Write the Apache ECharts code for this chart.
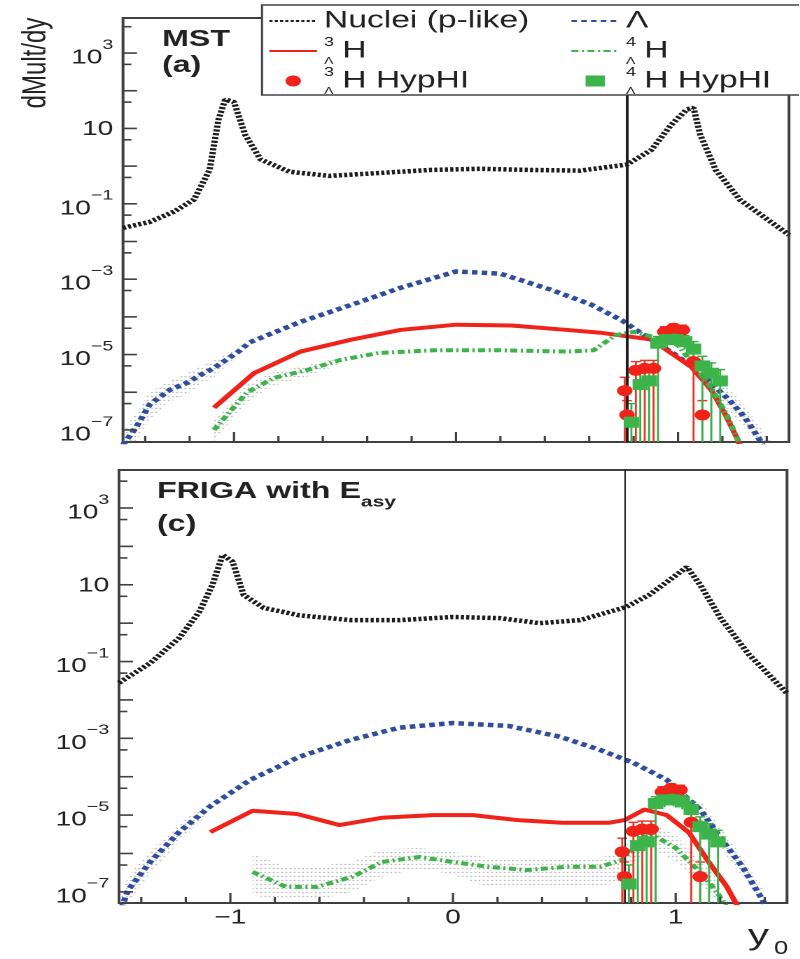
<!DOCTYPE html>
<html>
<head>
<meta charset="utf-8">
<script src="https://cdn.jsdelivr.net/npm/echarts@6/dist/echarts.min.js"></script>
<style>
  html, body { margin: 0; padding: 0; background: #fff; overflow: hidden; }
  /* the original figure is stretched horizontally, so the chart is too */
  #chart { height: 959px; transform-origin: 0 0; }
</style>
</head>
<body>
<div id="chart"></div>
<script>
// horizontal stretch of the source figure
const SX = 1.4;

// x axis (rapidity y0) ticks
const xMajor = [-1, 0, 1];
const xMinor = [-1.4, -1.2, -0.8, -0.6, -0.4, -0.2, 0.2, 0.4, 0.6, 0.8, 1.2, 1.4];
// y axis: decades (log10), labelled decades, and the 5x10^n minor ticks
const yDecades = [-7, -6, -5, -4, -3, -2, -1, 0, 1, 2, 3];
const yLabelled = [-7, -5, -3, -1, 1, 3];
const yHalf = [-6.301, -5.301, -4.301, -3.301, -2.301, -1.301, -0.301, 0.699, 1.699, 2.699, 3.699];
const Y0_CUT = 0.77;

// ---- panel (a) MST ----
const aNucX = [-1.5, -1.38, -1.27, -1.18, -1.11, -1.07, -1.04, -1.0, -0.95, -0.88, -0.75, -0.57, -0.34, -0.12, 0.11, 0.34, 0.56, 0.77, 0.88, 0.97, 1.04, 1.07, 1.1, 1.17, 1.28, 1.5];
const aNucY = [0.023, 0.033, 0.062, 0.13, 0.79, 17, 58, 50, 6.8, 1.5, 0.71, 0.55, 0.66, 0.79, 0.85, 0.79, 0.76, 1.1, 2.7, 12.6, 32, 35, 6.8, 0.79, 0.126, 0.015];

const aLamX = [-1.5, -1.44, -1.38, -1.29, -1.21, -1.15, -1.09, -0.98, -0.93, -0.7, -0.47, -0.25, 0.0, 0.2, 0.43, 0.61, 0.75, 0.83, 1.0, 1.12, 1.23, 1.3, 1.36, 1.42];
const aLamY = [4e-8, 1.2e-7, 4.7e-7, 1.15e-6, 1.8e-6, 2.9e-6, 4.4e-6, 1.2e-5, 2.1e-5, 7.4e-5, 2.1e-4, 5.9e-4, 1.6e-3, 1.4e-3, 5.2e-4, 2.1e-4, 7.9e-5, 3.8e-5, 8.9e-6, 2.5e-6, 6.3e-7, 2.2e-7, 6.5e-8, 1.6e-8];

const aH3X = [-1.09, -0.91, -0.7, -0.47, -0.25, 0.0, 0.25, 0.5, 0.65, 0.88, 1.06, 1.15, 1.21, 1.27, 1.32];
const aH3Y = [3.9e-7, 3.2e-6, 1.2e-5, 2.5e-5, 4.5e-5, 6.2e-5, 5.9e-5, 4.5e-5, 3.8e-5, 2.5e-5, 4.7e-6, 1.15e-6, 2.8e-7, 5.4e-8, 1e-8];

const aH4X = [-1.09, -1.02, -0.94, -0.82, -0.67, -0.52, -0.35, -0.1, 0.2, 0.5, 0.62, 0.72, 0.8, 0.9, 1.0, 1.06, 1.15, 1.22, 1.28];
const aH4Y = [1e-7, 3e-7, 1e-6, 2.4e-6, 3.9e-6, 7.2e-6, 1.1e-5, 1.3e-5, 1.3e-5, 1.2e-5, 1.3e-5, 3.3e-5, 4e-5, 2.8e-5, 1.8e-5, 6.3e-6, 1.3e-6, 2.5e-7, 4e-8];

// uncertainty bands, panel (a)
const aLamBandX = [-1.5, -1.44, -1.38, -1.29, -1.21, -1.15, -1.09, -1.0];
const aLamBandLo = [1.6e-8, 5e-8, 1.8e-7, 5.6e-7, 9e-7, 1.6e-6, 2.5e-6, 7.6e-6];
const aLamBandHi = [1e-7, 2.8e-7, 1e-6, 2e-6, 3.2e-6, 5e-6, 7e-6, 1.4e-5];
const aLamBand2X = [1.12, 1.23, 1.3, 1.36, 1.42];
const aLamBand2Lo = [1.4e-6, 3.2e-7, 1.1e-7, 3.2e-8, 6.3e-9];
const aLamBand2Hi = [4.5e-6, 1.26e-6, 4.5e-7, 1.4e-7, 4e-8];
const aH4BandX = [-1.09, -1.02, -0.94, -0.82, -0.67, -0.52];
const aH4BandLo = [5e-8, 1.6e-7, 5.6e-7, 1.5e-6, 2.6e-6, 5.6e-6];
const aH4BandHi = [1.8e-7, 5e-7, 1.6e-6, 3.5e-6, 5.2e-6, 8.9e-6];

// ---- panel (c) FRIGA with E_asy ----
const cNucX = [-1.5, -1.36, -1.23, -1.14, -1.08, -1.035, -0.99, -0.94, -0.85, -0.69, -0.46, -0.24, 0.0, 0.21, 0.39, 0.57, 0.775, 0.88, 0.97, 1.05, 1.11, 1.2, 1.33, 1.5];
const cNucY = [0.028, 0.091, 0.41, 1.95, 10, 60, 40, 5.4, 2.5, 1.6, 1.2, 1.2, 1.45, 1.35, 1.0, 1.2, 2.6, 5.4, 13, 29, 10, 1.4, 0.15, 0.015];

const cLamX = [-1.5, -1.46, -1.36, -1.23, -1.09, -0.91, -0.69, -0.46, -0.24, 0.0, 0.25, 0.48, 0.66, 0.81, 0.96, 1.11, 1.21, 1.3, 1.39, 1.45];
const cLamY = [2.5e-8, 1.1e-7, 6e-7, 3.6e-6, 1.7e-5, 8.3e-5, 3.3e-4, 9.1e-4, 1.9e-3, 2.5e-3, 2.1e-3, 1.1e-3, 5e-4, 2.3e-4, 8.3e-5, 1.4e-5, 2.2e-6, 4.5e-7, 6.2e-8, 1.3e-8];

const cH3X = [-1.09, -0.9, -0.7, -0.51, -0.32, -0.09, 0.09, 0.29, 0.49, 0.7, 0.77, 0.86, 0.96, 1.06, 1.15, 1.23, 1.3];
const cH3Y = [3.6e-6, 1.3e-5, 1.07e-5, 5.5e-6, 8.5e-6, 1e-5, 1e-5, 7.4e-6, 6.3e-6, 6.3e-6, 7.4e-6, 1.4e-5, 1e-5, 3.5e-6, 5.8e-7, 1.35e-7, 2.5e-8];

const cH4X = [-0.9, -0.75, -0.61, -0.45, -0.32, -0.15, 0.0, 0.16, 0.33, 0.51, 0.66, 0.76, 0.88, 1.0, 1.1, 1.18, 1.24];
const cH4Y = [3.3e-7, 1.35e-7, 1.35e-7, 2.5e-7, 6e-7, 8.1e-7, 6e-7, 4.5e-7, 3.7e-7, 4.5e-7, 4.5e-7, 6.8e-7, 3.5e-6, 1.4e-6, 3.7e-7, 1.1e-7, 3.2e-8];

// uncertainty bands, panel (c)
const cH4BandX = [-0.9, -0.75, -0.61, -0.45, -0.32, -0.15, 0.0, 0.16, 0.33, 0.51, 0.66, 0.76];
const cH4BandLo = [8e-8, 6.3e-8, 6.3e-8, 1e-7, 2.5e-7, 4e-7, 2.8e-7, 1.26e-7, 1.26e-7, 1.26e-7, 1.26e-7, 2e-7];
const cH4BandHi = [1e-6, 4.5e-7, 4.5e-7, 6.3e-7, 1.26e-6, 1.4e-6, 1.1e-6, 7.9e-7, 7.9e-7, 7.9e-7, 7.9e-7, 1e-6];
const cH4Band2X = [0.76, 0.88, 1.0, 1.1, 1.2];
const cH4Band2Lo = [2.5e-7, 1.5e-6, 6e-7, 1.6e-7, 3e-8];
const cH4Band2Hi = [1.5e-6, 7e-6, 3e-6, 8e-7, 2e-7];
const cLamBandX = [-1.5, -1.46, -1.36, -1.23, -1.12];
const cLamBandLo = [1e-8, 5e-8, 3e-7, 2e-6, 8e-6];
const cLamBandHi = [5e-8, 2.5e-7, 1.2e-6, 6e-6, 1.8e-5];
const cLamBand2X = [1.11, 1.21, 1.3, 1.39];
const cLamBand2Lo = [7e-6, 1.2e-6, 2.5e-7, 3e-8];
const cLamBand2Hi = [2.5e-5, 4e-6, 8e-7, 1.2e-7];

// ---- HypHI data (same in both panels) ----
const hyp3X = [0.76, 0.77, 0.81, 0.85, 0.89, 0.94, 0.98, 1.02, 1.07, 1.11];
const hyp3Y = [1.1e-6, 2.5e-7, 3.8e-6, 4.3e-6, 4.3e-6, 4e-5, 5e-5, 4.5e-5, 6.5e-6, 2.5e-7];
const hyp3Lo = [1e-9, 1e-9, 1e-9, 1e-9, 1e-9, 2.8e-5, 3.6e-5, 3.2e-5, 1e-9, 1e-9];
const hyp3Hi = [2.5e-6, 6e-7, 6.5e-6, 7e-6, 7e-6, 5.5e-5, 6.5e-5, 6e-5, 1.1e-5, 6e-7];

const hyp4X = [0.79, 0.83, 0.87, 0.91, 0.95, 0.99, 1.03, 1.07, 1.11, 1.15, 1.19];
const hyp4Y = [1.6e-7, 1.6e-6, 2e-6, 2e-5, 2.5e-5, 2.5e-5, 2.2e-5, 1.4e-5, 5e-6, 3.2e-6, 2e-6];
const hyp4Lo = [1e-9, 1e-9, 1e-9, 1e-9, 1.6e-5, 1.7e-5, 1.4e-5, 8e-6, 1e-9, 1e-9, 1e-9];
const hyp4Hi = [5e-7, 3.2e-6, 4e-6, 3e-5, 3.5e-5, 3.5e-5, 3.2e-5, 2.2e-5, 9e-6, 6e-6, 4e-6];

const COL = {
    nuc: '#1c1c1c',
    lam: '#2f4d9c',
    h3: '#f0231b',
    h4: '#3cb44a',
    axis: '#404040',
    text: '#222'
};
const FONT = '"Liberation Sans", Arial, sans-serif';

// panel boxes (reference pixels; x is divided by the stretch)
const PANELS = [
    { left: 123, top: 18, width: 666, height: 424, yMin: -7.32, yMax: 3.93 },
    { left: 119, top: 470, width: 668, height: 433, yMin: -7.29, yMax: 3.99 }
];
const X_MIN = -1.5, X_MAX = 1.5;

const lg = v => Math.log10(v);
const pts = (xs, ys) => xs.map((x, i) => [x, lg(ys[i])]);

// dotted grey fill like the ROOT hatch
const dot = document.createElement('canvas');
dot.width = 3;
dot.height = 4;
const dctx = dot.getContext('2d');
dctx.fillStyle = '#8f8f8f';
dctx.fillRect(0, 0, 1, 1);

const el = document.getElementById('chart');
el.style.width = (800 / SX) + 'px';
el.style.transform = 'scaleX(' + SX + ')';
const chart = echarts.init(el, null, { renderer: 'canvas', devicePixelRatio: 2 });

function lineSeries(name, g, xs, ys, lineStyle, extra) {
    return Object.assign({
        type: 'line',
        name: name,
        xAxisIndex: g,
        yAxisIndex: g,
        data: pts(xs, ys),
        symbol: 'none',
        showSymbol: false,
        lineStyle: lineStyle,
        itemStyle: { color: lineStyle.color },
        z: 3
    }, extra || {});
}

function bandSeries(g, xs, lo, hi) {
    return {
        type: 'custom',
        xAxisIndex: g,
        yAxisIndex: g,
        data: xs.map((x, i) => [x, lg(lo[i]), lg(hi[i])]),
        encode: { x: 0, y: [1, 2] },
        silent: true,
        z: 1,
        renderItem: (params, api) => {
            if (params.dataIndex !== 0) return null;
            const cs = params.coordSys;
            const clampY = y => Math.max(cs.y, Math.min(cs.y + cs.height, y));
            const up = xs.map((x, i) => api.coord([x, lg(hi[i])]));
            const down = xs.map((x, i) => api.coord([x, lg(lo[i])])).reverse();
            const points = up.concat(down).map(p => [p[0], clampY(p[1])]);
            return {
                type: 'polygon',
                shape: { points: points },
                style: { fill: { image: dot, repeat: 'repeat' }, stroke: null }
            };
        }
    };
}

function errSeries(g, xs, ys, lo, hi, color) {
    return {
        type: 'custom',
        xAxisIndex: g,
        yAxisIndex: g,
        data: xs.map((x, i) => [x, lg(ys[i]), lg(lo[i]), lg(hi[i])]),
        encode: { x: 0, y: 1 },
        silent: true,
        z: 4,
        renderItem: (params, api) => {
            const cs = params.coordSys;
            const bottom = cs.y + cs.height;
            const top = api.coord([api.value(0), api.value(3)]);
            const low = api.coord([api.value(0), api.value(2)]);
            const yLow = Math.min(bottom, low[1]);
            const cap = 3.5;
            const st = { stroke: color, lineWidth: 1.4 };
            return {
                type: 'group',
                children: [
                    { type: 'line', shape: { x1: top[0], y1: top[1], x2: low[0], y2: yLow }, style: st },
                    { type: 'line', shape: { x1: top[0] - cap, y1: top[1], x2: top[0] + cap, y2: top[1] }, style: st }
                ]
            };
        }
    };
}

function scatterSeries(name, g, xs, ys, symbol, size, color) {
    return {
        type: 'scatter',
        name: name,
        xAxisIndex: g,
        yAxisIndex: g,
        data: pts(xs, ys),
        symbol: symbol,
        symbolSize: size,
        itemStyle: { color: color, opacity: 1 },
        z: 5
    };
}

function xAxis(g, showLabels) {
    return {
        type: 'value', gridIndex: g, min: X_MIN, max: X_MAX, position: 'bottom',
        axisLine: { show: false, onZero: false }, splitLine: { show: false },
        axisTick: { show: false },
        axisLabel: {
            show: showLabels, customValues: xMajor, margin: 5,
            fontSize: 20, color: COL.text, fontFamily: FONT,
            formatter: v => (v < 0 ? '\u2212' + (-v) : String(v))
        }
    };
}

function yAxis(g) {
    return {
        type: 'value', gridIndex: g, min: PANELS[g].yMin, max: PANELS[g].yMax, position: 'left',
        axisLine: { show: false, onZero: false }, splitLine: { show: false },
        axisTick: { show: false },
        axisLabel: {
            customValues: yLabelled, margin: 7,
            formatter: v => {
                const n = Math.round(v);
                if (n === 1) return '{b|10}';
                return '{b|10}{s|' + (n < 0 ? '\u2212' + (-n) : n) + '}';
            },
            rich: {
                b: { fontSize: 20, lineHeight: 22, verticalAlign: 'bottom', color: COL.text, fontFamily: FONT },
                s: { fontSize: 14, lineHeight: 30, verticalAlign: 'top', color: COL.text, fontFamily: FONT }
            }
        }
    };
}

function panelSeries(g, d, cutWidth) {
    return [
        ...d.bands.map(b => bandSeries(g, b[0], b[1], b[2])),
        lineSeries('Nuclei (p-like)', g, d.nucX, d.nucY, { color: COL.nuc, width: 4.5, type: [2.2, 1.6] }, {
            markLine: {
                silent: true, symbol: 'none', label: { show: false },
                lineStyle: { color: '#1e1e1e', width: cutWidth, type: 'solid' },
                data: [{ xAxis: Y0_CUT }]
            }
        }),
        lineSeries('\u039B', g, d.lamX, d.lamY, { color: COL.lam, width: 4.5, type: [4, 3] }),
        lineSeries('3\u039BH', g, d.h3X, d.h3Y, { color: COL.h3, width: 4, type: 'solid' }),
        lineSeries('4\u039BH', g, d.h4X, d.h4Y, { color: COL.h4, width: 4, type: [5, 2.5, 1.5, 2.5] }),
        errSeries(g, hyp3X, hyp3Y, hyp3Lo, hyp3Hi, '#ee3322'),
        scatterSeries('3\u039BH HypHI', g, hyp3X, hyp3Y, 'circle', 11, COL.h3),
        errSeries(g, hyp4X, hyp4Y, hyp4Lo, hyp4Hi, '#35ae46'),
        scatterSeries('4\u039BH HypHI', g, hyp4X, hyp4Y, 'rect', 11, COL.h4)
    ];
}

const legendRich = {
    u: { fontSize: 13, lineHeight: 17, verticalAlign: 'top', width: 0.01, color: COL.text, fontFamily: FONT },
    d: { fontSize: 10, lineHeight: 12, verticalAlign: 'bottom', width: 13, color: COL.text, fontFamily: FONT }
};
const legendLabel = {
    'Nuclei (p-like)': 'Nuclei (p-like)',
    '\u039B': '\u039B',
    '3\u039BH': '{u|3}{d|\u039B}H',
    '4\u039BH': '{u|4}{d|\u039B}H',
    '3\u039BH HypHI': '{u|3}{d|\u039B}H HypHI',
    '4\u039BH HypHI': '{u|4}{d|\u039B}H HypHI'
};
// line entries: hide the legend symbol, keep the line
const lineItem = name => ({ name: name, itemStyle: { opacity: 0 } });
function legendCol(left, items) {
    return {
        orient: 'vertical', left: left, top: 6, padding: 0,
        itemWidth: 34, itemHeight: 11, itemGap: 0, z: 30,
        selectedMode: false,
        data: items,
        formatter: n => legendLabel[n],
        textStyle: { fontSize: 24, lineHeight: 30, color: COL.text, fontFamily: FONT, rich: legendRich }
    };
}

const baseGraphic = [
    {
        type: 'rect', z: 20, silent: true,
        shape: { x: 262 / SX, y: 5, width: 400, height: 90 },
        style: { fill: '#fff', stroke: '#444', lineWidth: 1.5 }
    },
    {
        type: 'text', z: 20, x: 36 / SX, y: 63, rotation: Math.PI / 2,
        style: { text: 'dMult/dy', font: '24px ' + FONT, fill: COL.text, textAlign: 'center', textVerticalAlign: 'middle' }
    },
    {
        type: 'text', z: 20, x: 162 / SX, y: 28,
        style: { text: 'MST', font: 'bold 23px ' + FONT, fill: COL.text, textVerticalAlign: 'top' }
    },
    {
        type: 'text', z: 20, x: 162 / SX, y: 54,
        style: { text: '(a)', font: 'bold 23px ' + FONT, fill: COL.text, textVerticalAlign: 'top' }
    },
    {
        type: 'text', z: 20, x: 157 / SX, y: 480,
        style: {
            text: '{b|FRIGA with E}{s|asy}', textVerticalAlign: 'top',
            rich: {
                b: { font: 'bold 23px ' + FONT, fill: COL.text, lineHeight: 30, verticalAlign: 'top' },
                s: { font: 'bold 15px ' + FONT, fill: COL.text, lineHeight: 18, verticalAlign: 'bottom' }
            }
        }
    },
    {
        type: 'text', z: 20, x: 157 / SX, y: 513,
        style: { text: '(c)', font: 'bold 23px ' + FONT, fill: COL.text, textVerticalAlign: 'top' }
    },
    {
        type: 'text', z: 20, x: 748 / SX, y: 951,
        style: { text: 'y', font: '30px ' + FONT, fill: COL.text, textVerticalAlign: 'bottom' }
    },
    {
        type: 'text', z: 20, x: 774 / SX, y: 958,
        style: { text: '0', font: '18px ' + FONT, fill: COL.text, textVerticalAlign: 'bottom' }
    }
];

const option = {
    animation: false,
    backgroundColor: '#fff',
    textStyle: { fontFamily: FONT },
    grid: PANELS.map(p => ({
        left: p.left / SX, top: p.top, width: p.width / SX, height: p.height,
        show: true, borderColor: COL.axis, borderWidth: 2
    })),
    xAxis: [xAxis(0, false), xAxis(1, true)],
    yAxis: [yAxis(0), yAxis(1)],
    legend: [
        legendCol(268 / SX, [
            lineItem('Nuclei (p-like)'),
            lineItem('3\u039BH'),
            { name: '3\u039BH HypHI', icon: 'circle' }
        ]),
        legendCol(570 / SX, [
            lineItem('\u039B'),
            lineItem('4\u039BH'),
            { name: '4\u039BH HypHI', icon: 'path://M0 0H10V8H0Z' }
        ])
    ],
    graphic: { elements: baseGraphic },
    series: [
        ...panelSeries(0, {
            nucX: aNucX, nucY: aNucY, lamX: aLamX, lamY: aLamY,
            h3X: aH3X, h3Y: aH3Y, h4X: aH4X, h4Y: aH4Y,
            bands: [
                [aLamBandX, aLamBandLo, aLamBandHi],
                [aLamBand2X, aLamBand2Lo, aLamBand2Hi],
                [aH4BandX, aH4BandLo, aH4BandHi]
            ]
        }, 2),
        ...panelSeries(1, {
            nucX: cNucX, nucY: cNucY, lamX: cLamX, lamY: cLamY,
            h3X: cH3X, h3Y: cH3Y, h4X: cH4X, h4Y: cH4Y,
            bands: [
                [cH4BandX, cH4BandLo, cH4BandHi],
                [cH4Band2X, cH4Band2Lo, cH4Band2Hi],
                [cLamBandX, cLamBandLo, cLamBandHi],
                [cLamBand2X, cLamBand2Lo, cLamBand2Hi]
            ]
        }, 1)
    ]
};

chart.setOption(option);

// inside tick marks: positions come from the axes via convertToPixel
function tickGraphics(g) {
    const p = PANELS[g];
    const st = { stroke: COL.axis, lineWidth: 1.6 };
    const out = [];
    const xt = (v, len) => {
        const c = chart.convertToPixel({ gridIndex: g }, [v, p.yMin]);
        out.push({ type: 'line', z: 25, silent: true, shape: { x1: c[0], y1: c[1], x2: c[0], y2: c[1] - len }, style: st });
    };
    const yt = (v, len) => {
        const c = chart.convertToPixel({ gridIndex: g }, [X_MIN, v]);
        out.push({ type: 'line', z: 25, silent: true, shape: { x1: c[0], y1: c[1], x2: c[0] + len, y2: c[1] }, style: st });
    };
    xMajor.forEach(v => xt(v, 10));
    xMinor.forEach(v => xt(v, 6));
    yDecades.forEach(v => yt(v, 10));
    yHalf.filter(v => v < p.yMax).forEach(v => yt(v, 6));
    return out;
}

chart.setOption({
    graphic: { elements: [...baseGraphic, ...tickGraphics(0), ...tickGraphics(1)] }
});
</script>
</body>
</html>
